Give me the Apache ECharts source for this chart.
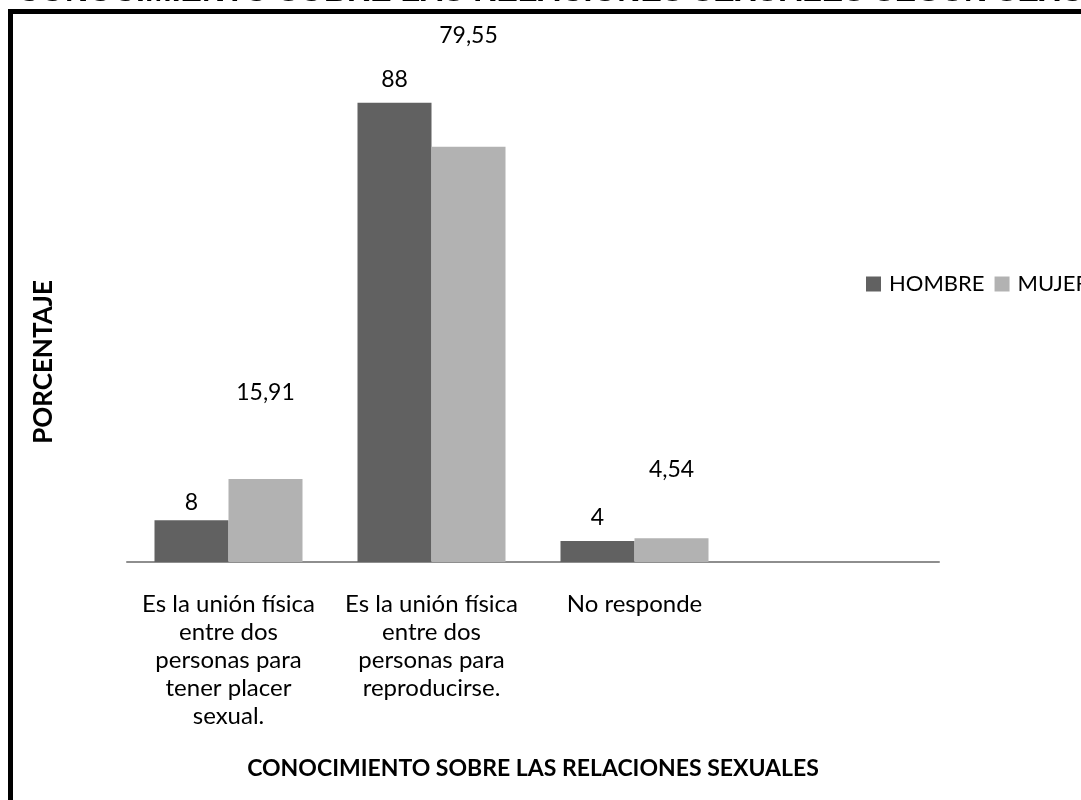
<!DOCTYPE html>
<html>
<head>
<meta charset="utf-8">
<title>Conocimiento sobre las relaciones sexuales según sexo</title>
<script src="https://cdn.jsdelivr.net/npm/echarts@6/dist/echarts.min.js"></script>
<style>
  html, body { margin: 0; padding: 0; background: #fff; }
  #chart { width: 1081px; height: 800px; }
</style>
</head>
<body>
<div id="chart"></div>
<script>
// datos
var categorias = [
  'Es la unión física\nentre dos\npersonas para\ntener placer\nsexual.',
  'Es la unión física\nentre dos\npersonas para\nreproducirse.',
  'No responde',
  ''
];
var hombre = [8, 88, 4];
var mujer = [15.91, 79.55, 4.54];
var series_nombres = ['HOMBRE', 'MUJER'];

// las etiquetas fueron movidas a mano en el original
var distHombre = [6, 12, 12];
var distMujer = [75, 100, 57];

function conComa(p) {
  return String(p.value).replace('.', ',');
}

function conEtiquetas(valores, dist) {
  return valores.map(function (v, i) {
    return { value: v, label: { distance: dist[i] } };
  });
}

var fuente = 'Lato, "Noto Sans", sans-serif';

var option = {
  animation: false,
  backgroundColor: '#fff',
  legend: {
    data: series_nombres,
    orient: 'horizontal',
    left: 861,
    top: 268,
    width: 500,
    icon: 'rect',
    itemWidth: 15,
    itemHeight: 15,
    itemGap: 10,
    textStyle: { fontFamily: fuente, fontSize: 22, color: '#000', padding: [0, 0, 0, 3] }
  },
  grid: { left: 127, width: 812, top: 40, bottom: 238 },
  xAxis: {
    type: 'category',
    data: categorias,
    name: 'CONOCIMIENTO SOBRE LAS RELACIONES SEXUALES',
    nameLocation: 'middle',
    nameGap: 195,
    nameTextStyle: { fontFamily: fuente, fontSize: 23, fontWeight: 'bold', color: '#000' },
    axisLine: { lineStyle: { color: '#8e8e8e', width: 2 } },
    axisTick: { show: false },
    axisLabel: {
      interval: 0,
      margin: 28,
      fontFamily: fuente,
      fontSize: 24,
      lineHeight: 28,
      color: '#000'
    }
  },
  yAxis: {
    type: 'value',
    min: 0,
    max: 100,
    show: false,
    splitLine: { show: false }
  },
  series: [
    {
      name: series_nombres[0],
      type: 'bar',
      barWidth: 74,
      barGap: '0%',
      itemStyle: { color: '#616161' },
      label: { show: true, position: 'top', formatter: conComa, fontFamily: fuente, fontSize: 23, color: '#000' },
      data: conEtiquetas(hombre, distHombre)
    },
    {
      name: series_nombres[1],
      type: 'bar',
      barWidth: 74,
      itemStyle: { color: '#b2b2b2' },
      label: { show: true, position: 'top', formatter: conComa, fontFamily: fuente, fontSize: 23, color: '#000' },
      data: conEtiquetas(mujer, distMujer)
    }
  ],
  graphic: [
    {
      type: 'text',
      left: 17,
      top: -24,
      style: {
        text: 'CONOCIMIENTO SOBRE LAS RELACIONES SEXUALES SEGÚN SEXO',
        font: 'bold 32px "Liberation Sans", Arial, sans-serif',
        fill: '#000'
      }
    },
    {
      type: 'rect',
      shape: { x: 10.5, y: 11.5, width: 2000, height: 2000 },
      style: { fill: 'none', stroke: '#000', lineWidth: 5 }
    },
    {
      type: 'text',
      x: 44,
      y: 362,
      rotation: Math.PI / 2,
      style: {
        text: 'PORCENTAJE',
        font: 'bold 26px Lato, "Noto Sans", sans-serif',
        fill: '#000',
        align: 'center',
        verticalAlign: 'middle'
      }
    }
  ]
};

var chart = echarts.init(document.getElementById('chart'));
chart.setOption(option);
</script>
</body>
</html>
